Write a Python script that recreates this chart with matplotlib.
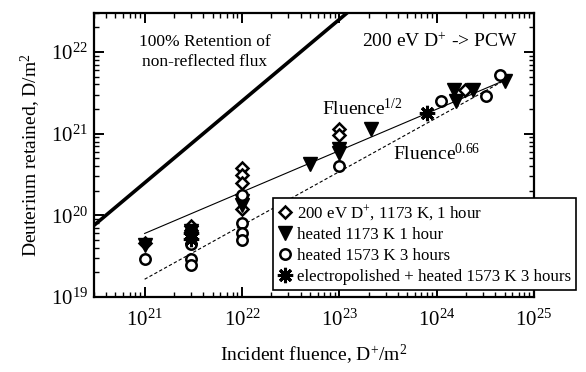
import matplotlib
matplotlib.use("Agg")
import matplotlib.pyplot as plt

plt.rcParams["font.family"] = ["Liberation Serif", "DejaVu Serif"]
plt.rcParams["mathtext.fontset"] = "custom"
plt.rcParams["mathtext.rm"] = "Liberation Serif"
plt.rcParams["mathtext.it"] = "Liberation Serif:italic"

# 200 eV D+, 1173 K, 1 hour
dia_x = [1e21, 3e21, 1e22, 1e22, 1e22, 1e22, 1e23, 1e23, 1.95e24]
dia_y = [4.6e19, 7.5e19, 3.8e20, 3.1e20, 2.5e20, 1.2e20, 1.15e21, 9.5e20, 3.4e21]

# heated 1173 K 1 hour
tri_x = [1e21, 3e21, 3e21, 1e22, 1e22, 5e22, 1e23, 1e23, 2.1e23, 1.5e24, 1.6e24, 2.35e24, 5e24]
tri_y = [4.3e19, 6.5e19, 5.5e19, 1.5e20, 1.35e20, 4.3e20, 6.5e20, 5.8e20, 1.15e21,
         3.4e21, 2.5e21, 3.4e21, 4.4e21]

# heated 1573 K 3 hours
cir_x = [1e21, 3e21, 3e21, 3e21, 1e22, 1e22, 1e22, 1e22, 1e23, 1.1e24, 3.2e24, 4.5e24]
cir_y = [2.9e19, 4.5e19, 2.9e19, 2.5e19, 1.75e20, 8.0e19, 6.0e19, 5.0e19, 4.0e20,
         2.5e21, 2.9e21, 5.3e21]

# electropolished + heated 1573 K 3 hours
ast_x = [3e21, 3e21, 8e23]
ast_y = [6.0e19, 5.2e19, 1.8e21]

# guide lines (end points)
ret_x = [1e20, 1e24]
ret_y = [2.5e19, 2.5e23]
half_x = [1e21, 5e24]
half_y = [6.0e19, 4.5e21]
p66_x = [1e21, 5e24]
p66_y = [1.65e19, 4.5e21]

fig = plt.figure(figsize=(5.86, 3.72), dpi=100)
ax = fig.add_axes([0.160, 0.2016, 0.751, 0.7634])

ax.plot(ret_x, ret_y, color="black", lw=2.6)
ax.plot(half_x, half_y, color="black", lw=0.8)
ax.plot(p66_x, p66_y, color="black", lw=0.8, linestyle=(0, (3, 2)))

ax.plot(dia_x, dia_y, "D", ms=6.5, mfc="white", mec="black", mew=1.8, ls="none",
        label="200 eV D$^{+}$, 1173 K, 1 hour")
ax.plot(tri_x, tri_y, "v", ms=9.5, color="black", ls="none",
        label="heated 1173 K 1 hour")
ax.plot(cir_x, cir_y, "o", ms=7.5, mfc="white", mec="black", mew=1.8, ls="none",
        label="heated 1573 K 3 hours")
ax.plot(ast_x, ast_y, marker=(8, 2, 0), ms=11, color="black", mew=2.2, ls="none",
        label="electropolished + heated 1573 K 3 hours")

ax.set_xscale("log")
ax.set_yscale("log")
ax.set_xlim(3e20, 1e25)
ax.set_ylim(1e19, 3e22)
ax.set_xticks([1e21, 1e22, 1e23, 1e24, 1e25])
ax.set_yticks([1e19, 1e20, 1e21, 1e22])

for s in ax.spines.values():
    s.set_linewidth(1.6)
ax.tick_params(which="both", direction="in", top=True, right=True, labelsize=15)
ax.tick_params(which="major", length=7, width=1.4)
ax.tick_params(which="minor", length=3.5, width=1.0)
ax.tick_params(axis="x", pad=9)
ax.tick_params(axis="y", pad=4)

ax.set_xlabel("Incident fluence, D$^{+}$/m$^{2}$", fontsize=14, labelpad=9)
ax.set_ylabel("Deuterium retained, D/m$^{2}$", fontsize=14, labelpad=6)

ax.text(0.252, 0.863, "100% Retention of\nnon-reflected flux", transform=ax.transAxes,
        ha="center", va="center", fontsize=12.5, linespacing=1.3)
ax.text(0.786, 0.898, "200 eV D$^{+}$ -> PCW", transform=ax.transAxes,
        ha="center", va="center", fontsize=14)
ax.text(0.518, 0.641, "Fluence$^{1/2}$", transform=ax.transAxes,
        ha="left", va="baseline", fontsize=14)
ax.text(0.680, 0.482, "Fluence$^{0.66}$", transform=ax.transAxes,
        ha="left", va="baseline", fontsize=14)

leg = ax.legend(loc="lower left", bbox_to_anchor=(0.407, 0.025), fontsize=12.2,
                frameon=True, fancybox=False, framealpha=1, edgecolor="black",
                handlelength=0.8, handletextpad=0.3, labelspacing=0.28,
                borderpad=0.3, borderaxespad=0)
leg.get_frame().set_linewidth(1.2)

fig.savefig("out.png", dpi=100)
